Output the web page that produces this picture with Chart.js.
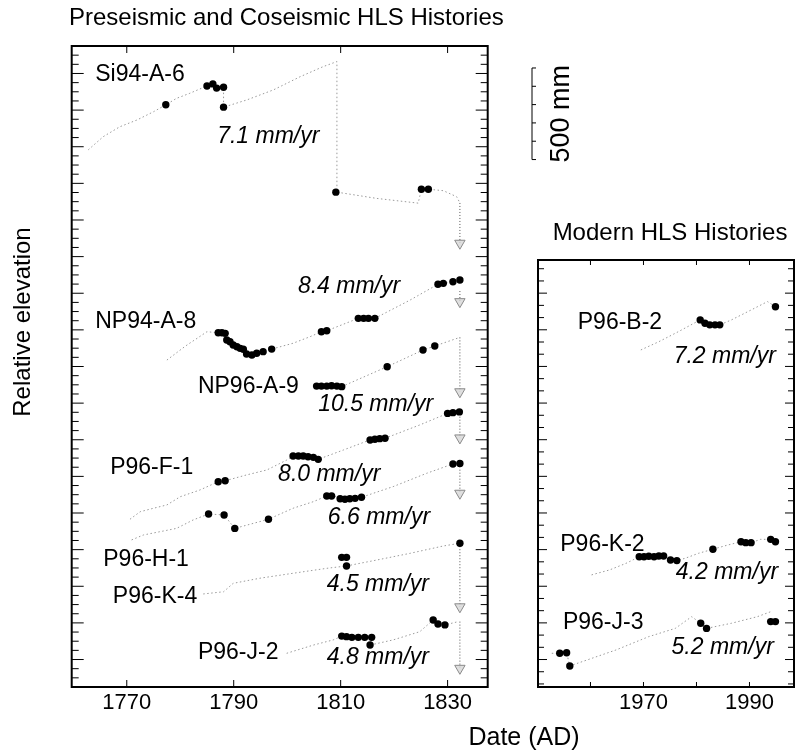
<!DOCTYPE html>
<html>
<head>
<meta charset="utf-8">
<script src="https://cdn.jsdelivr.net/npm/chart.js@4.4.1/dist/chart.umd.min.js"></script>
<style>
  html, body { margin: 0; padding: 0; background: #fff; }
  #wrap { position: relative; width: 798px; height: 753px; }
  #wrap canvas { position: absolute; top: 0; }
  #cLeft { left: 0; }
  #cRight { left: 500px; }
</style>
</head>
<body>
<div id="wrap">
  <canvas id="cLeft" width="798" height="753"></canvas>
  <canvas id="cRight" width="298" height="753"></canvas>
</div>
<script>
// ---- data: years (AD) and relative elevation (mm) ----
// preseismic / coseismic panel
var si94FitYr = [1762.8, 1765.6, 1768.7, 1771.9, 1775.0, 1777.3, 1779.3, 1781.8, 1785.0, 1786.1, 1786.8, 1788.1, 1788.1, 1792.4, 1797.4, 1802.4, 1806.7, 1809.3, 1809.3, 1816.7, 1824.5, 1825.1, 1826.4, 1829.2, 1831.7, 1832.3];
var si94FitMm = [2783, 2855, 2909, 2946, 2991, 3029, 3064, 3092, 3132, 3143, 3120, 3125, 3016, 3055, 3110, 3182, 3237, 3265, 2552, 2518, 2492, 2568, 2568, 2560, 2527, 2493];
var si94ObsYr = [1777.3, 1785.0, 1786.1, 1786.8, 1788.1, 1788.1, 1809.1, 1825.1, 1826.4];
var si94ObsMm = [3029, 3132, 3143, 3120, 3125, 3016, 2552, 2568, 2568];

var np94FitYr = [1777.5, 1781.0, 1785.0, 1787.1, 1788.4, 1789.3, 1790.6, 1791.8, 1793.4, 1795.5, 1797.1, 1801.1, 1804.3, 1806.4, 1807.4, 1813.3, 1816.4, 1823.0, 1828.2, 1832.3];
var np94FitMm = [1635, 1712, 1790, 1784, 1781, 1735, 1708, 1694, 1663, 1681, 1695, 1727, 1763, 1790, 1795, 1863, 1863, 1963, 2049, 2072];
var np94ObsYr = [1787.1, 1787.8, 1788.4, 1788.7, 1789.3, 1789.9, 1790.6, 1791.2, 1791.8, 1792.4, 1793.4, 1794.3, 1795.5, 1797.1, 1806.4, 1807.4, 1813.3, 1814.3, 1815.2, 1816.4, 1828.2, 1829.2, 1831.0, 1832.3];
var np94ObsMm = [1784, 1784, 1781, 1745, 1735, 1717, 1708, 1699, 1694, 1668, 1663, 1672, 1681, 1695, 1790, 1795, 1863, 1863, 1863, 1863, 2049, 2054, 2063, 2072];

var np96FitYr = [1810.2, 1818.7, 1825.4, 1827.6, 1832.3];
var np96FitMm = [1490, 1599, 1690, 1712, 1759];
var np96ObsYr = [1805.5, 1806.4, 1807.4, 1808.3, 1809.3, 1810.2, 1818.7, 1825.4, 1827.6];
var np96ObsMm = [1493, 1493, 1493, 1495, 1493, 1490, 1599, 1690, 1712];

var f1FitYr = [1770.6, 1772.5, 1775.0, 1777.5, 1780.0, 1783.7, 1787.1, 1788.4, 1792.4, 1796.2, 1799.9, 1801.1, 1805.8, 1810.5, 1815.5, 1818.3, 1824.8, 1830.0, 1832.2];
var f1FitMm = [766, 807, 826, 844, 889, 926, 971, 976, 1008, 1035, 1089, 1111, 1093, 1144, 1199, 1208, 1281, 1344, 1352];
var f1ObsYr = [1787.1, 1788.4, 1801.1, 1802.1, 1803.0, 1803.9, 1804.9, 1805.8, 1815.5, 1816.4, 1817.3, 1818.3, 1830.0, 1831.0, 1832.2];
var f1ObsMm = [971, 976, 1111, 1111, 1111, 1107, 1104, 1093, 1199, 1203, 1206, 1208, 1344, 1348, 1352];

var h1FitYr = [1770.9, 1773.1, 1776.2, 1779.3, 1782.4, 1785.3, 1788.2, 1790.2, 1796.5, 1801.1, 1804.9, 1807.4, 1813.9, 1819.8, 1826.1, 1831.0, 1832.3];
var h1FitMm = [653, 680, 698, 716, 762, 795, 789, 716, 766, 826, 862, 893, 886, 944, 1017, 1068, 1071];
var h1ObsYr = [1785.3, 1788.2, 1790.2, 1796.5, 1807.4, 1808.3, 1809.9, 1810.8, 1811.7, 1812.7, 1813.9, 1831.0, 1832.3];
var h1ObsMm = [795, 789, 716, 766, 893, 893, 878, 875, 878, 880, 886, 1068, 1071];

var k4FitYr = [1784.3, 1788.1, 1789.9, 1794.9, 1801.1, 1807.4, 1811.1, 1816.7, 1823.0, 1829.2, 1832.3];
var k4FitMm = [358, 370, 416, 444, 471, 498, 511, 543, 580, 620, 635];
var k4ObsYr = [1810.2, 1811.1, 1811.1, 1832.3];
var k4ObsMm = [558, 558, 511, 635];

var j2FitYr = [1799.9, 1804.9, 1808.6, 1810.2, 1815.8, 1815.5, 1819.8, 1824.8, 1827.3, 1829.5, 1832.0];
var j2FitMm = [34, 79, 107, 128, 121, 79, 107, 152, 216, 189, 207];
var j2ObsYr = [1810.2, 1811.1, 1812.1, 1813.3, 1814.5, 1815.8, 1815.5, 1827.3, 1828.2, 1829.5];
var j2ObsMm = [128, 125, 121, 121, 121, 121, 79, 216, 194, 189];

// coseismic drops in 1833: year, from mm, to mm
var arrowYr = [1832.3, 1832.3, 1832.3, 1832.3, 1832.3, 1832.3, 1832.3];
var arrowTop = [2493, 2012, 1759, 1326, 1053, 635, 207];
var arrowBot = [2273, 1954, 1462, 1210, 908, 288, -48];

// modern panel
var b2FitYr = [1969.5, 1972.9, 1976.6, 1980.7, 1981.6, 1984.4, 1986.6, 1990.3, 1993.4, 1994.9];
var b2FitMm = [1690, 1735, 1790, 1854, 1836, 1827, 1854, 1908, 1954, 1926];
var b2ObsYr = [1980.7, 1981.6, 1982.5, 1983.5, 1984.4, 1994.9];
var b2ObsMm = [1854, 1836, 1827, 1827, 1827, 1926];

var k2FitYr = [1960.2, 1963.6, 1966.7, 1969.2, 1973.8, 1976.3, 1977.9, 1980.4, 1983.1, 1985.9, 1988.4, 1990.3, 1992.1, 1994.0, 1994.9];
var k2FitMm = [462, 489, 525, 561, 565, 540, 553, 580, 602, 625, 643, 638, 656, 656, 643];
var k2ObsYr = [1969.2, 1970.1, 1971.0, 1972.0, 1972.9, 1973.8, 1975.1, 1976.3, 1983.1, 1988.4, 1989.3, 1990.3, 1994.0, 1994.9];
var k2ObsMm = [561, 561, 564, 561, 565, 565, 543, 540, 602, 643, 638, 638, 656, 643];

var j3FitYr = [1952.7, 1954.2, 1955.5, 1956.1, 1959.3, 1964.8, 1971.0, 1976.0, 1979.1, 1980.8, 1981.9, 1986.6, 1991.5, 1994.0];
var j3FitMm = [34, 34, 37, -35, -3, 52, 125, 170, 234, 198, 170, 198, 234, 261];
var j3ObsYr = [1954.2, 1955.5, 1956.1, 1980.8, 1981.9, 1994.0, 1994.9];
var j3ObsMm = [34, 37, -35, 198, 170, 207, 207];

// tick labels
var leftYearTicks = [1770, 1790, 1810, 1830];
var rightYearTicks = [1960, 1970, 1980, 1990];
var rightYearLabels = [1970, 1990];

// profile names and rates, placed in data coordinates [text, year, mm, italic]
var leftNotes = [
  ["Si94-A-6", 1764.1, 3192], ["7.1 mm/yr", 1786.9, 2853, 1],
  ["8.4 mm/yr", 1802.0, 2036, 1], ["NP94-A-8", 1764.1, 1845],
  ["NP96-A-9", 1783.3, 1490], ["10.5 mm/yr", 1805.8, 1390, 1],
  ["P96-F-1", 1766.9, 1046], ["8.0 mm/yr", 1798.3, 1008, 1],
  ["6.6 mm/yr", 1807.6, 773, 1], ["P96-H-1", 1765.6, 543],
  ["P96-K-4", 1767.4, 341], ["4.5 mm/yr", 1807.4, 407, 1],
  ["P96-J-2", 1783.3, 36], ["4.8 mm/yr", 1807.4, 8, 1]
];
var rightNotes = [
  ["P96-B-2", 1957.6, 1837], ["7.2 mm/yr", 1975.7, 1653, 1],
  ["P96-K-2", 1954.3, 625], ["4.2 mm/yr", 1976.1, 472, 1],
  ["P96-J-3", 1954.8, 199], ["5.2 mm/yr", 1975.3, 63, 1]
];

var FONT = "'Liberation Sans', Arial, Helvetica, sans-serif";
var FIT = "#9a9a9a";

function pts(xs, ys) {
  return xs.map(function (x, i) { return { x: x, y: ys[i] }; });
}

function fit(xs, ys) {
  return {
    data: pts(xs, ys), showLine: true, borderColor: FIT, borderWidth: 1,
    borderDash: [1.5, 2.5], pointRadius: 0, tension: 0, order: 2
  };
}

function obs(xs, ys) {
  return {
    data: pts(xs, ys), showLine: false, pointRadius: 3.7,
    pointBackgroundColor: "#000", pointBorderColor: "#000", borderWidth: 0, order: 1
  };
}

function arrow(i) {
  return {
    data: [{ x: arrowYr[i], y: arrowTop[i] }, { x: arrowYr[i], y: arrowBot[i] }],
    showLine: true, borderColor: "#555", borderWidth: 1, borderDash: [1, 2],
    pointRadius: [0, 6], pointStyle: "triangle", rotation: 180,
    pointBackgroundColor: "rgba(215,215,215,0.8)", pointBorderColor: "#8a8a8a",
    pointBorderWidth: 1, order: 3
  };
}

// frame with inward ticks and year labels, drawn from the chart's own scales
var frameTicks = {
  id: "frameTicks",
  afterDatasetsDraw: function (chart, args, o) {
    var ctx = chart.ctx, a = chart.chartArea, x = chart.scales.x, y = chart.scales.y;
    ctx.save();
    ctx.strokeStyle = "#000";
    ctx.lineWidth = 1;
    function seg(x1, y1, x2, y2) { ctx.beginPath(); ctx.moveTo(x1, y1); ctx.lineTo(x2, y2); ctx.stroke(); }
    o.xTicks.forEach(function (v) {
      var px = x.getPixelForValue(v);
      seg(px, a.bottom, px, a.bottom - o.xLen);
      seg(px, a.top, px, a.top + o.xLen);
    });
    for (var k = -2; ; k++) {
      var v = k * o.yMinor;
      if (v > y.max) break;
      if (v < y.min) continue;
      var py = y.getPixelForValue(v);
      var len = k % o.perMajor === 0 ? o.majLen : o.minLen;
      seg(a.left, py, a.left + len, py);
      seg(a.right, py, a.right - len, py);
    }
    ctx.lineWidth = 2;
    ctx.strokeRect(a.left, a.top, a.width, a.height);
    ctx.fillStyle = "#000";
    ctx.font = "22px " + FONT;
    ctx.textAlign = "center";
    ctx.textBaseline = "middle";
    o.xLabels.forEach(function (v) {
      ctx.fillText(String(v), x.getPixelForValue(v), a.bottom + 16);
    });
    ctx.font = "24px " + FONT;
    ctx.textAlign = o.titleAlign;
    ctx.fillText(o.title, o.titleX, o.titleY);
    ctx.restore();
  }
};

var notes = {
  id: "notes",
  afterDatasetsDraw: function (chart, args, o) {
    var ctx = chart.ctx, x = chart.scales.x, y = chart.scales.y;
    ctx.save();
    ctx.fillStyle = "#000";
    ctx.textAlign = "left";
    ctx.textBaseline = "middle";
    o.items.forEach(function (n) {
      ctx.font = (n[3] ? "italic " : "") + "23px " + FONT;
      ctx.fillText(n[0], x.getPixelForValue(n[1]), y.getPixelForValue(n[2]));
    });
    ctx.restore();
  }
};

// axis titles and the 500 mm scale bar (uses the left chart's y scale)
var extras = {
  id: "extras",
  afterDraw: function (chart) {
    var ctx = chart.ctx, y = chart.scales.y;
    ctx.save();
    ctx.fillStyle = "#000";
    ctx.font = "25px " + FONT;
    ctx.textAlign = "center";
    ctx.textBaseline = "middle";
    ctx.fillText("Date (AD)", 524, 738);
    ctx.font = "24px " + FONT;
    ctx.translate(23, 322);
    ctx.rotate(-Math.PI / 2);
    ctx.fillText("Relative elevation", 0, 0);
    ctx.restore();

    var bx = 532, top = y.getPixelForValue(3230), bot = y.getPixelForValue(2730);
    ctx.save();
    ctx.strokeStyle = "#000";
    ctx.lineWidth = 1;
    ctx.beginPath();
    ctx.moveTo(bx, top); ctx.lineTo(bx, bot); ctx.stroke();
    for (var v = 2730; v <= 3230; v += 100) {
      var py = y.getPixelForValue(v);
      ctx.beginPath(); ctx.moveTo(bx, py); ctx.lineTo(bx + 4, py); ctx.stroke();
    }
    ctx.fillStyle = "#000";
    ctx.font = "27px " + FONT;
    ctx.textAlign = "center";
    ctx.textBaseline = "middle";
    ctx.translate(562, (top + bot) / 2);
    ctx.rotate(-Math.PI / 2);
    ctx.fillText("500 mm", 0, 0);
    ctx.restore();
  }
};

function baseOptions(pad, xr, yr) {
  return {
    responsive: false, animation: false, devicePixelRatio: 1, events: [],
    layout: { padding: pad },
    plugins: { legend: { display: false }, tooltip: { enabled: false } },
    scales: {
      x: { type: "linear", min: xr[0], max: xr[1], display: false },
      y: { type: "linear", min: yr[0], max: yr[1], display: false }
    }
  };
}

var leftDatasets = [
  fit(si94FitYr, si94FitMm), obs(si94ObsYr, si94ObsMm),
  fit(np94FitYr, np94FitMm), obs(np94ObsYr, np94ObsMm),
  fit(np96FitYr, np96FitMm), obs(np96ObsYr, np96ObsMm),
  fit(f1FitYr, f1FitMm), obs(f1ObsYr, f1ObsMm),
  fit(h1FitYr, h1FitMm), obs(h1ObsYr, h1ObsMm),
  fit(k4FitYr, k4FitMm), obs(k4ObsYr, k4ObsMm),
  fit(j2FitYr, j2FitMm), obs(j2ObsYr, j2ObsMm)
];
arrowYr.forEach(function (_, i) { leftDatasets.push(arrow(i)); });

var leftOpts = baseOptions({ left: 71.7, top: 46, right: 310.3, bottom: 66 }, [1759.7, 1837.5], [-150, 3350]);
leftOpts.plugins.frameTicks = {
  xTicks: leftYearTicks, xLabels: leftYearTicks, xLen: 7,
  yMinor: 50, perMajor: 4, majLen: 12, minLen: 7,
  title: "Preseismic and Coseismic HLS Histories", titleAlign: "left", titleX: 69, titleY: 18
};
leftOpts.plugins.notes = { items: leftNotes };

new Chart(document.getElementById("cLeft"), {
  type: "scatter",
  data: { datasets: leftDatasets },
  options: leftOpts,
  plugins: [frameTicks, notes, extras]
});

var rightOpts = baseOptions({ left: 38, top: 260, right: 1, bottom: 66 }, [1950.1, 1998.4], [-150, 2181]);
rightOpts.plugins.frameTicks = {
  xTicks: rightYearTicks, xLabels: rightYearLabels, xLen: 5,
  yMinor: 200 / 3, perMajor: 3, majLen: 9, minLen: 6,
  title: "Modern HLS Histories", titleAlign: "center", titleX: 170, titleY: 233
};
rightOpts.plugins.notes = { items: rightNotes };

new Chart(document.getElementById("cRight"), {
  type: "scatter",
  data: {
    datasets: [
      fit(b2FitYr, b2FitMm), obs(b2ObsYr, b2ObsMm),
      fit(k2FitYr, k2FitMm), obs(k2ObsYr, k2ObsMm),
      fit(j3FitYr, j3FitMm), obs(j3ObsYr, j3ObsMm)
    ]
  },
  options: rightOpts,
  plugins: [frameTicks, notes]
});
</script>
</body>
</html>
